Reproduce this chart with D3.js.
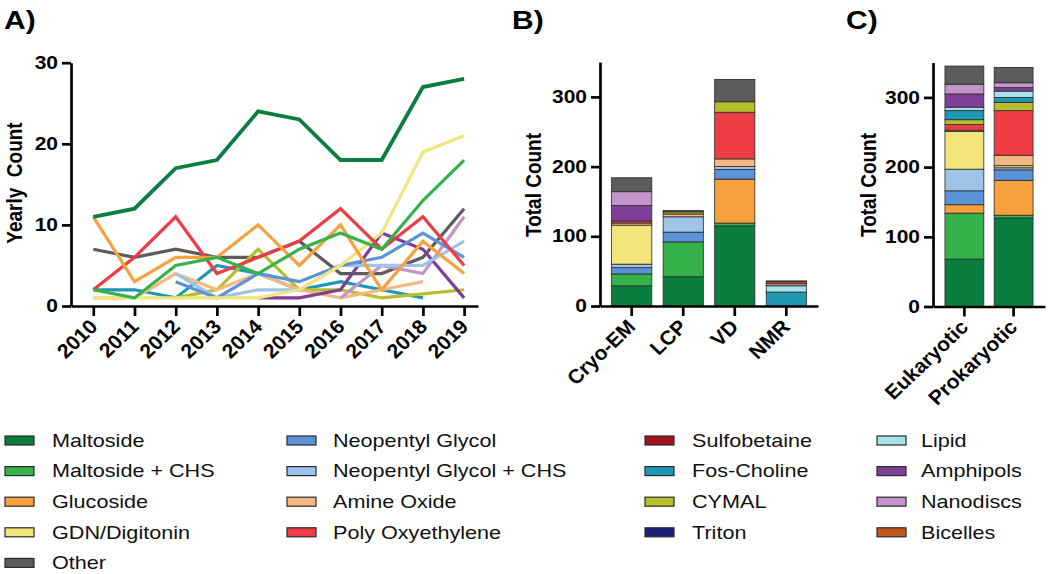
<!DOCTYPE html>
<html><head><meta charset="utf-8">
<script src="https://cdn.jsdelivr.net/npm/d3@7"></script>
<style>
body{margin:0;background:#fff;}
svg{font-family:"Liberation Sans",Arial,Helvetica,sans-serif;}
</style></head>
<body><svg id="c" width="1050" height="574"></svg>
<script>
// ---------- DATA ----------
const years = [2010,2011,2012,2013,2014,2015,2016,2017,2018,2019];
const yTicksA = [0,10,20,30];
const yTicksBC = [0,100,200,300];

// Panel A yearly counts (null = not present)
const maltoside      = [11,12,17,18,24,23,18,18,27,28];
const maltosideCHS   = [2,1,5,6,4,7,9,7,13,18];
const glucoside      = [11,3,6,6,10,5,10,2,8,4];
const gdnDigitonin   = [1,1,1,1,1,2,5,9,19,21];
const other          = [7,6,7,6,6,8,4,4,6,12];
const neopentyl      = [null,null,3,1,4,3,5,6,9,6];
const neopentylCHS   = [null,null,4,1,2,2,5,5,5,8];
const amineOxide     = [1,1,4,2,4,2,1,2,3,null];
const polyOxy        = [2,6,11,4,6,8,12,7,11,5];
const fosCholine     = [2,2,1,5,4,2,3,2,1,null];
const cymal          = [null,null,1,2,7,2,2,1,1.5,2];
const amphipols      = [null,null,null,null,1,1,2,9,7,1];
const nanodiscs      = [null,null,null,null,null,null,1,5,4,11];

// Stack order (bottom -> top) for panels B and C
const stackKeys = ["Maltoside","Maltoside + CHS","Glucoside","Neopentyl Glycol","Neopentyl Glycol + CHS","GDN/Digitonin","Amine Oxide","Poly Oxyethylene","Sulfobetaine","CYMAL","Fos-Choline","Triton","Lipid","Amphipols","Nanodiscs","Bicelles","Other"];
// Panel B (per method), aligned with stackKeys
const methodCats = ["Cryo-EM","LCP","VD","NMR"];
const cryoEM = [29,17,0,9,5,56,3,3,0,0,0,0,0,22,20,0,20];
const lcp    = [42,50,0,14,22,0,4,0,0,3,0,0,0,0,0,0,2];
const vd     = [115,4,63,14,4,0,11,67,0,15,0,0,0,0,0,0,32];
const nmr    = [0,0,0,0,0,0,0,0,0,0,20,0,9,0,3,3,1];
// Panel C (per organism), aligned with stackKeys
const orgCats = ["Eukaryotic","Prokaryotic"];
const eukaryotic  = [68,66,12,20,31,54,2,8,0,7,13,0,5,19,14,0,26];
const prokaryotic = [127,4,50,15,3,3,15,64,0,12,7,0,9,5,7,0,22];

// Legend columns
const legendCols = [
  ["Maltoside","Maltoside + CHS","Glucoside","GDN/Digitonin","Other"],
  ["Neopentyl Glycol","Neopentyl Glycol + CHS","Amine Oxide","Poly Oxyethylene"],
  ["Sulfobetaine","Fos-Choline","CYMAL","Triton"],
  ["Lipid","Amphipols","Nanodiscs","Bicelles"]
];

// ---------- STYLE ----------
const colors = {
  "Maltoside":"#0a7e3e","Maltoside + CHS":"#35b34a","Glucoside":"#f7a13e","GDN/Digitonin":"#f1e57c",
  "Other":"#5c5c5c","Neopentyl Glycol":"#5c93d6","Neopentyl Glycol + CHS":"#9fc4ea","Amine Oxide":"#f6b882",
  "Poly Oxyethylene":"#ee3b44","Sulfobetaine":"#a3121d","Fos-Choline":"#1f98b6","CYMAL":"#b6be2b",
  "Triton":"#1b1f7b","Lipid":"#a8e1e7","Amphipols":"#7d3f98","Nanodiscs":"#c394c9","Bicelles":"#c0581f"
};
const SX = 1.2; // horizontal stretch of the lettering
const svg = d3.select("#c");
const font = '"Liberation Sans",Arial,Helvetica,sans-serif';

function styleAxis(g){
  g.selectAll("path.domain").attr("stroke","#000").attr("stroke-width",2.7);
  g.selectAll(".tick line").attr("stroke","#000").attr("stroke-width",2.7);
  g.selectAll(".tick text").attr("font-family",font).attr("font-weight","bold").attr("font-size",17.5).attr("fill","#000");
}
function stretchY(g){
  g.selectAll(".tick text").each(function(){
    const t = d3.select(this); const x = +t.attr("x");
    t.attr("x",0).attr("transform",`translate(${x},0) scale(${SX},1)`);
  });
}
function rotLabels(g){
  g.selectAll(".tick text").attr("text-anchor","end").attr("x",0).attr("y",0).attr("dy",null)
    .attr("font-size",20).attr("transform",`translate(5,22) scale(1.05,1) rotate(-45)`);
}
function label(x,y,txt,size,bold,rot){
  return svg.append("text").attr("transform",`translate(${x},${y}) scale(${SX},1)`+(rot?` rotate(${rot})`:""))
    .attr("font-family",font).attr("font-weight",bold?"bold":"normal").attr("font-size",size)
    .attr("text-anchor",rot?"middle":"start").attr("fill","#000").text(txt);
}

// ---------- PANEL A ----------
const xA = d3.scaleLinear().domain([2009.459,2019.337]).range([71,478]);
const yA = d3.scaleLinear().domain([0,30]).range([306,62.7]);
const gA = svg.append("g");
const lineSeries = [
  ["Other",other],["Fos-Choline",fosCholine],["CYMAL",cymal],["Amine Oxide",amineOxide],
  ["Nanodiscs",nanodiscs],["Amphipols",amphipols],["Neopentyl Glycol + CHS",neopentylCHS],
  ["Neopentyl Glycol",neopentyl],["GDN/Digitonin",gdnDigitonin],["Poly Oxyethylene",polyOxy],
  ["Glucoside",glucoside],["Maltoside + CHS",maltosideCHS],["Maltoside",maltoside]
];
const line = d3.line().defined(d=>d.v!=null).x(d=>xA(d.y)).y(d=>yA(d.v));
lineSeries.forEach(([name,vals])=>{
  gA.append("path").datum(years.map((y,i)=>({y:y,v:vals[i]})))
    .attr("d",line).attr("fill","none").attr("stroke",colors[name])
    .attr("stroke-width",name==="Maltoside"?3.8:3.2).attr("stroke-linejoin","miter");
});
const axA_x = gA.append("g").attr("transform","translate(0,306)")
  .call(d3.axisBottom(xA).tickValues(years).tickFormat(d3.format("d")).tickSize(10).tickSizeOuter(0));
styleAxis(axA_x); rotLabels(axA_x);
const axA_y = gA.append("g").attr("transform","translate(71,0)")
  .call(d3.axisLeft(yA).tickValues(yTicksA).tickSize(9).tickPadding(4).tickSizeOuter(0));
styleAxis(axA_y); stretchY(axA_y);
label(22,183,"Yearly  Count",19,true,-90).attr("xml:space","preserve");
label(4,29,"A)",25,true);

// ---------- STACKED PANELS ----------
function stackedPanel(cats, rows, x0, x1, padIn, padOut, y0, lab, lx, titleX){
  const x = d3.scaleBand().domain(cats).range([x0,x1]).paddingInner(padIn).paddingOuter(padOut);
  const y = d3.scaleLinear().domain([0,350]).range([y0, y0-350*0.697]);
  const g = svg.append("g");
  const data = cats.map((c,i)=>{const o={cat:c}; stackKeys.forEach((k,j)=>o[k]=rows[i][j]); return o;});
  const series = d3.stack().keys(stackKeys)(data);
  series.forEach(s=>{
    g.selectAll(null).data(s.filter(d=>d[1]-d[0]>0)).enter().append("rect")
      .attr("x",d=>x(d.data.cat)).attr("width",x.bandwidth())
      .attr("y",d=>y(d[1])).attr("height",d=>y(d[0])-y(d[1]))
      .attr("fill",colors[s.key]).attr("stroke","#2a2a2a").attr("stroke-width",0.8);
  });
  const ax = g.append("g").attr("transform",`translate(0,${y0})`)
    .call(d3.axisBottom(x).tickSize(10).tickSizeOuter(0));
  styleAxis(ax); rotLabels(ax);
  const ay = g.append("g").attr("transform",`translate(${x0},0)`)
    .call(d3.axisLeft(y).tickValues(yTicksBC).tickSize(9).tickPadding(4).tickSizeOuter(0));
  styleAxis(ay); stretchY(ay);
  label(titleX,185,"Total Count",19,true,-90);
  label(lx,29,lab,25,true);
}
stackedPanel(methodCats,[cryoEM,lcp,vd,nmr],600,818,0.22,0.225,306,"B)",512,541);
stackedPanel(orgCats,[eukaryotic,prokaryotic],933,1045,0.21,0.243,306.5,"C)",846,876);

// ---------- LEGEND ----------
const legX = [5,287,645,877];
const legTX = [52,333,692,921];
const legY0 = 440.5, legDY = 30.6;
legendCols.forEach((col,ci)=>{
  col.forEach((name,ri)=>{
    const gy = legY0 + ri*legDY;
    svg.append("rect").attr("x",legX[ci]).attr("y",gy-4.5).attr("width",29).attr("height",9)
      .attr("fill",colors[name]).attr("stroke","#2a2a2a").attr("stroke-width",1.2);
    label(legTX[ci],gy+6.3,name,18,false).attr("fill","#111");
  });
});
</script></body></html>
